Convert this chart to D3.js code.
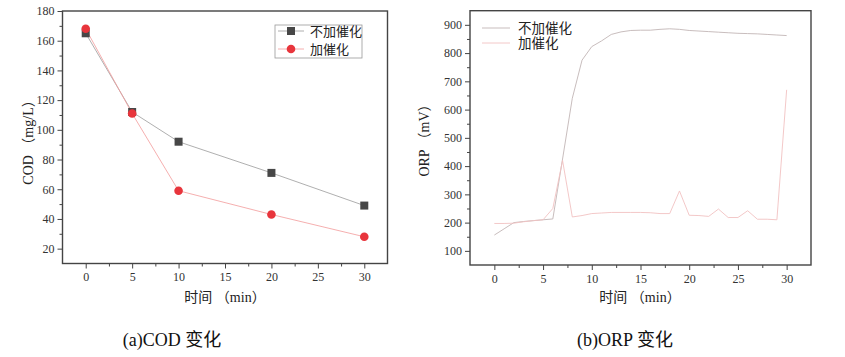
<!DOCTYPE html>
<html><head><meta charset="utf-8">
<script src="https://cdn.jsdelivr.net/npm/d3@7"></script>
<style>body{margin:0;background:#fff}svg{display:block}</style>
</head><body>
<svg id="c" width="845" height="357"></svg>
<script>
// ---- data ----
const codTime = [0, 5, 10, 20, 30];
const codNoCat = [165, 112, 92, 71, 49];
const codCat = [168, 111, 59, 43, 28];
const orpTime = [0,1,2,3,4,5,6,7,8,9,10,11,12,13,14,15,16,17,18,19,20,21,22,23,24,25,26,27,28,29,30];
const orpNoCat = [156,178,200,204,207,210,213,425,640,775,823,843,866,875,880,881,881,884,886,884,880,878,876,874,872,870,869,868,866,864,862];
const orpCat = [197,197,198,203,207,210,250,420,220,225,232,234,236,236,236,236,235,232,232,312,226,225,222,248,218,218,242,212,212,210,670];
const seriesNames = ["不加催化", "加催化"];
const xTicks = [0,5,10,15,20,25,30];
const codTicks = [20,40,60,80,100,120,140,160,180];
const orpTicks = [100,200,300,400,500,600,700,800,900];
const captions = ["(a)COD 变化", "(b)ORP 变化"];

const svg = d3.select("#c");
const serif = "'Liberation Serif','Noto Sans CJK SC',serif";
const axisColor = "#444";

function drawFrame(g, x, y, xt, yt, xMinor, yMinor) {
  const [x0, x1] = x.range(), [y0, y1] = y.range();
  const xa = d3.axisBottom(x).tickValues(xt).tickSize(5).tickPadding(4);
  const xm = d3.axisBottom(x).tickValues(xMinor).tickSize(3).tickFormat("");
  const ya = d3.axisLeft(y).tickValues(yt).tickSize(5).tickPadding(3);
  const ym = d3.axisLeft(y).tickValues(yMinor).tickSize(3).tickFormat("");
  [[xa, "b"], [xm, "b"], [ya, "l"], [ym, "l"]].forEach(([ax, s]) => {
    const gg = g.append("g").attr("transform", s === "b" ? `translate(0,${y0})` : `translate(${x0},0)`).call(ax);
    gg.select(".domain").remove();
    gg.selectAll("line").attr("stroke", axisColor).attr("stroke-width", 1);
    gg.selectAll("text").attr("font-family", serif).attr("font-size", 12).attr("fill", "#333");
  });
  g.append("rect").attr("x", x0).attr("y", y1).attr("width", x1 - x0).attr("height", y0 - y1)
    .attr("fill", "none").attr("stroke", axisColor).attr("stroke-width", 1.4);
}

// ---- chart a ----
{
  const x = d3.scaleLinear().domain([-2.5, 32.5]).range([62.5, 387.5]);
  const y = d3.scaleLinear().domain([10, 180]).range([263.5, 11]);
  const g = svg.append("g");
  drawFrame(g, x, y, xTicks, codTicks, [-2.5,2.5,7.5,12.5,17.5,22.5,27.5,32.5].filter(v=>v>-2.5&&v<32.5), [10,30,50,70,90,110,130,150,170].filter(v=>v>10));
  const line = d3.line().x((d, i) => x(codTime[i])).y(d => y(d));
  g.append("path").datum(codNoCat).attr("d", line).attr("fill", "none").attr("stroke", "#9a9a9a").attr("stroke-width", 0.8);
  g.append("path").datum(codCat).attr("d", line).attr("fill", "none").attr("stroke", "#f29a9a").attr("stroke-width", 0.8);
  g.selectAll(".sq").data(codNoCat).join("rect").attr("x", (d, i) => x(codTime[i]) - 4).attr("y", d => y(d) - 4)
    .attr("width", 8).attr("height", 8).attr("fill", "#474747");
  g.selectAll(".ci").data(codCat).join("circle").attr("cx", (d, i) => x(codTime[i])).attr("cy", d => y(d))
    .attr("r", 4.3).attr("fill", "#e8353c");
  // legend
  const lg = g.append("g");
  lg.append("rect").attr("x", 275).attr("y", 25).attr("width", 87).attr("height", 33).attr("fill", "#fff").attr("stroke", "#999").attr("stroke-width", 0.8);
  [[31, "#9a9a9a"], [49, "#f29a9a"]].forEach(([ly, c], i) => {
    lg.append("line").attr("x1", 278).attr("x2", 304).attr("y1", ly).attr("y2", ly).attr("stroke", c).attr("stroke-width", 0.8);
    if (i === 0) lg.append("rect").attr("x", 287).attr("y", ly - 4).attr("width", 8).attr("height", 8).attr("fill", "#474747");
    else lg.append("circle").attr("cx", 291).attr("cy", ly).attr("r", 4.3).attr("fill", "#e8353c");
    lg.append("text").attr("x", 310).attr("y", ly + 4.5).text(seriesNames[i]).attr("font-family", serif).attr("font-size", 13).attr("fill", "#222");
  });
  g.append("text").attr("transform", "translate(33,139) rotate(-90)").attr("text-anchor", "middle")
    .attr("font-family", serif).attr("font-size", 14).attr("fill", "#222").text("COD （mg/L）");
  g.append("text").attr("x", 225).attr("y", 302).attr("text-anchor", "middle")
    .attr("font-family", serif).attr("font-size", 14).attr("fill", "#222").text("时间 （min）");
  g.append("text").attr("x", 172).attr("y", 346).attr("text-anchor", "middle")
    .attr("font-family", serif).attr("font-size", 18).attr("fill", "#111").text(captions[0]);
}

// ---- chart b ----
{
  const x = d3.scaleLinear().domain([-2.5, 32.5]).range([470, 811]);
  const y = d3.scaleLinear().domain([50, 950]).range([265, 10.7]);
  const g = svg.append("g");
  drawFrame(g, x, y, xTicks, orpTicks, [2.5,7.5,12.5,17.5,22.5,27.5], [150,250,350,450,550,650,750,850]);
  const line = d3.line().x((d, i) => x(orpTime[i])).y(d => y(d));
  g.append("path").datum(orpNoCat).attr("d", line).attr("fill", "none").attr("stroke", "#c2b6b6").attr("stroke-width", 0.9);
  g.append("path").datum(orpCat).attr("d", line).attr("fill", "none").attr("stroke", "#f2c2c2").attr("stroke-width", 0.9);
  [[28, "#c2b6b6"], [43, "#f2c2c2"]].forEach(([ly, c], i) => {
    g.append("line").attr("x1", 482).attr("x2", 510).attr("y1", ly).attr("y2", ly).attr("stroke", c).attr("stroke-width", 0.9);
    g.append("text").attr("x", 518).attr("y", ly + 5).text(seriesNames[i]).attr("font-family", serif).attr("font-size", 13.5).attr("fill", "#222");
  });
  g.append("text").attr("transform", "translate(429,137) rotate(-90)").attr("text-anchor", "middle")
    .attr("font-family", serif).attr("font-size", 14).attr("fill", "#222").text("ORP （mV）");
  g.append("text").attr("x", 640).attr("y", 302).attr("text-anchor", "middle")
    .attr("font-family", serif).attr("font-size", 14).attr("fill", "#222").text("时间 （min）");
  g.append("text").attr("x", 625).attr("y", 346).attr("text-anchor", "middle")
    .attr("font-family", serif).attr("font-size", 18).attr("fill", "#111").text(captions[1]);
}
</script>
</body></html>
